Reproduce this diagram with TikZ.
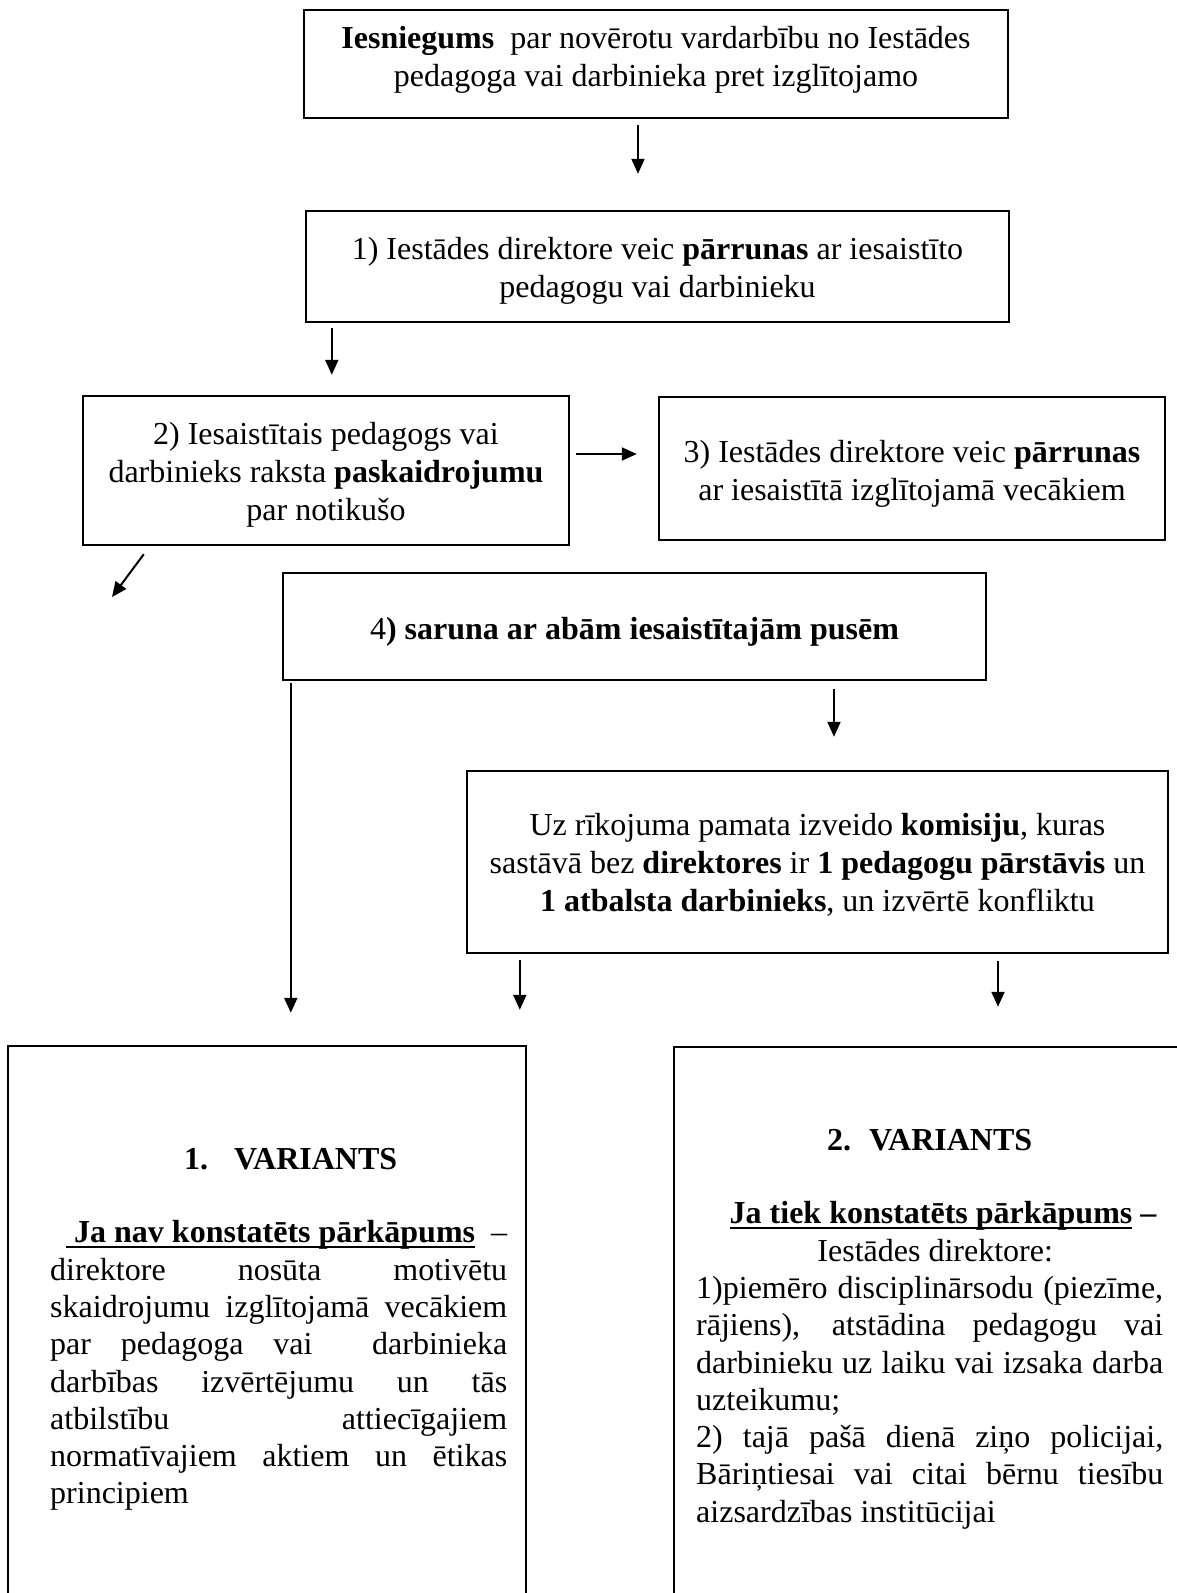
\documentclass[tikz,border=0pt]{standalone}
\usepackage{fontspec}
\setmainfont{Liberation Serif}
\usepackage{tikz}
\usetikzlibrary{arrows.meta}

\newcommand{\ltw}{457pt}
\newcommand{\rtw}{467pt}
\newcommand{\ulbf}[1]{\setbox0\hbox{\textbf{#1}}\rlap{\rule[-5pt]{\wd0}{1.8pt}}\box0\relax}
\newcommand{\jl}[2]{\makebox[#1][s]{\spaceskip=0pt\xspaceskip=0pt\relax#2}}

\begin{document}
\begin{tikzpicture}[x=1pt,y=-1pt,
		box/.style={draw, line width=2.4pt, inner sep=0pt, align=center, font=\fontsize{32}{38}\selectfont},
		arr/.style={line width=2pt, -{Triangle[length=15pt,width=13pt]}},
		txt/.style={inner sep=0pt, anchor=base west, align=left, font=\fontsize{32}{37.3}\selectfont}]
	\useasboundingbox (0,0) rectangle (1177,1593);
	\clip (0,0) rectangle (1177,1593);
	\node[box, minimum width=704, minimum height=108] (iesn) at (656,64) {\textbf{Iesniegums}\ \ par novērotu vardarbību no Iestādes\\ pedagoga vai darbinieka pret izglītojamo\rule[-15pt]{0pt}{0pt}};
	\node[box, minimum width=703, minimum height=111] (parr1) at (657.5,266.5) {\rule{0pt}{31pt}1) Iestādes direktore veic \textbf{pārrunas} ar iesaistīto\\ pedagogu vai darbinieku};
	\node[box, minimum width=486, minimum height=149] (pask) at (326,470.5) {\rule{0pt}{31pt}2) Iesaistītais pedagogs vai\\ darbinieks raksta \textbf{paskaidrojumu}\\ par notikušo};
	\node[box, minimum width=506, minimum height=143] (parr3) at (912,468.5) {\rule{0pt}{32pt}3) Iestādes direktore veic \textbf{pārrunas}\\ ar iesaistītā izglītojamā vecākiem};
	\node[box, minimum width=703, minimum height=107] (saruna) at (634.5,626.5) {\rule{0pt}{32pt}4\textbf{) saruna ar abām iesaistītajām pusēm}};
	\node[box, minimum width=701, minimum height=182] (komis) at (817.5,862) {\rule{0pt}{28pt}Uz rīkojuma pamata izveido \textbf{komisiju}, kuras\\ sastāvā bez \textbf{direktores} ir \textbf{1 pedagogu pārstāvis} un\\ \textbf{1 atbalsta darbinieks}, un izvērtē konfliktu};
	\node[box, minimum width=518, minimum height=614] (var1) at (267,1353) {};
	\node[box, minimum width=516, minimum height=613] (var2) at (932,1353.5) {};
	\node[txt, text width=\ltw] (var1txt) at (50,1169) {\spaceskip=0pt\xspaceskip=0pt%
		\makebox[\ltw]{\hspace*{24pt}\textbf{1.\hspace{26pt}VARIANTS}}\\[36.5pt]
		\jl{\ltw}{\hspace*{16pt}\ulbf{\ Ja nav konstatēts pārkāpums} –}\\
		\jl{\ltw}{direktore nosūta motivētu}\\
		\jl{\ltw}{skaidrojumu izglītojamā vecākiem}\\
		\jl{\ltw}{par pedagoga vai\ \ darbinieka}\\
		\jl{\ltw}{darbības izvērtējumu un tās}\\
		\jl{\ltw}{atbilstību attiecīgajiem}\\
		\jl{\ltw}{normatīvajiem aktiem un ētikas}\\
		principiem};
	\node[txt, text width=\rtw] (var2txt) at (696,1150) {\spaceskip=0pt\xspaceskip=0pt%
		\makebox[\rtw]{\textbf{2.\hspace{18pt}VARIANTS}}\\[36.5pt]
		\makebox[\rtw]{\hspace*{27pt}\ulbf{Ja tiek konstatēts pārkāpums} \textbf{–}}\\
		\makebox[\rtw]{\hspace*{11pt}Iestādes direktore:}\\
		\jl{\rtw}{1)piemēro disciplinārsodu (piezīme,}\\
		\jl{\rtw}{rājiens), atstādina pedagogu vai}\\
		\jl{\rtw}{darbinieku uz laiku vai izsaka darba}\\
		uzteikumu;\\
		\jl{\rtw}{2) tajā pašā dienā ziņo policijai,}\\
		\jl{\rtw}{Bāriņtiesai vai citai bērnu tiesību}\\
		aizsardzības institūcijai};
	\coordinate (kreisi) at (112,597);
	\draw[arr, shorten <=6pt, shorten >=36pt] ([xshift=-18]iesn.south) -- ([xshift=-18]iesn.south |- parr1.north);
	\draw[arr, shorten <=5pt, shorten >=20pt] ([xshift=27]parr1.south west) -- ([xshift=27]parr1.south west |- pask.north);
	\draw[arr, shorten <=6pt, shorten >=21pt] ([yshift=16.5]pask.east) -- ([yshift=16.5]pask.east -| parr3.west);
	\draw[arr] ([xshift=62,yshift=-8]pask.south west) -- (kreisi);
	\draw[arr, shorten <=2pt, shorten >=32pt] ([xshift=9]saruna.south west) -- ([xshift=9]saruna.south west |- var1.north);
	\draw[arr, shorten <=8pt, shorten >=33pt] ([xshift=199.5]saruna.south) -- ([xshift=199.5]saruna.south |- komis.north);
	\draw[arr, shorten <=6pt, shorten >=35pt] ([xshift=54]komis.south west) -- ([xshift=54]komis.south west |- var1.north);
	\draw[arr, shorten <=7pt, shorten >=39pt] ([xshift=180.5]komis.south) -- ([xshift=180.5]komis.south |- var2.north);
\end{tikzpicture}
\end{document}
